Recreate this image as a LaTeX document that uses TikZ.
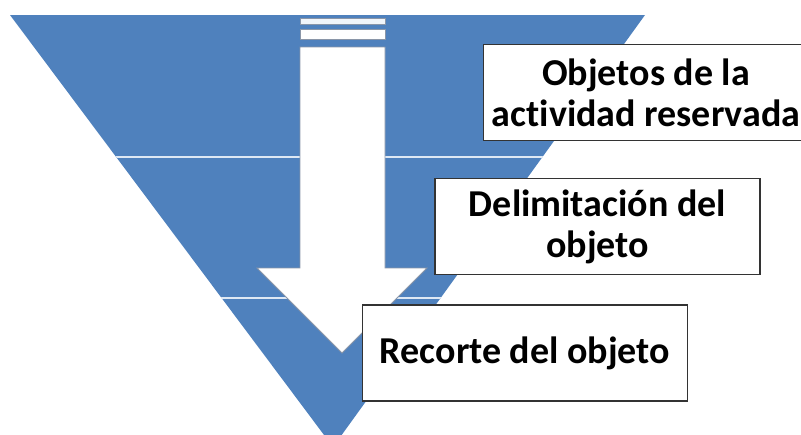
\documentclass[tikz,border=0pt]{standalone}
\usepackage{fontspec}
\setmainfont{Carlito}
\usepackage{tikz}
\usetikzlibrary{positioning,calc}
\definecolor{piramide}{RGB}{79, 129, 189}
\definecolor{linea}{RGB}{222, 232, 244}
\definecolor{borde}{RGB}{60, 80, 110}

\begin{document}
\begin{tikzpicture}[x=1pt,y=-1pt,line width = 1.5pt,
	caja/.style={rectangle,draw=black!80,fill=white,minimum width=325pt,minimum height=96pt,inner sep=0pt,align=center,font=\fontsize{38}{41}\selectfont\bfseries}]
	\useasboundingbox (0,0) rectangle (801,434);
	
	% triangulo invertido
	\fill[piramide] (10,15) -- (645,15) -- (333,447) -- cycle;
	\begin{scope}
		\clip (10,15) -- (645,15) -- (333,447) -- cycle;
		\draw[linea,line width=2pt] (0,157) -- (801,157);
		\draw[linea,line width=2pt] (0,298) -- (801,298);
	\end{scope}
	
	% flecha
	\filldraw[fill=white!92!piramide,draw=borde!60,line width=0.8pt] (300,18) rectangle (385,24);
	\filldraw[fill=white,draw=borde!60,line width=0.8pt] (300,29) rectangle (385,39);
	\filldraw[fill=white,draw=borde!60,line width=0.8pt] (300,47) -- (385,47) -- (385,268) -- (427,268) -- (342,353) -- (257,268) -- (300,268) -- cycle;
	
	\node[caja] (objetos) at (646,92.5) {Objetos de la\\act\kern0pt ividad reservada};
	\node[caja] (delimitacion) at (597.5,226.5) {Delimitación del\\objeto};
	\node[caja] (recorte) at (525,353) {Recorte del objeto};
\end{tikzpicture}
\end{document}
